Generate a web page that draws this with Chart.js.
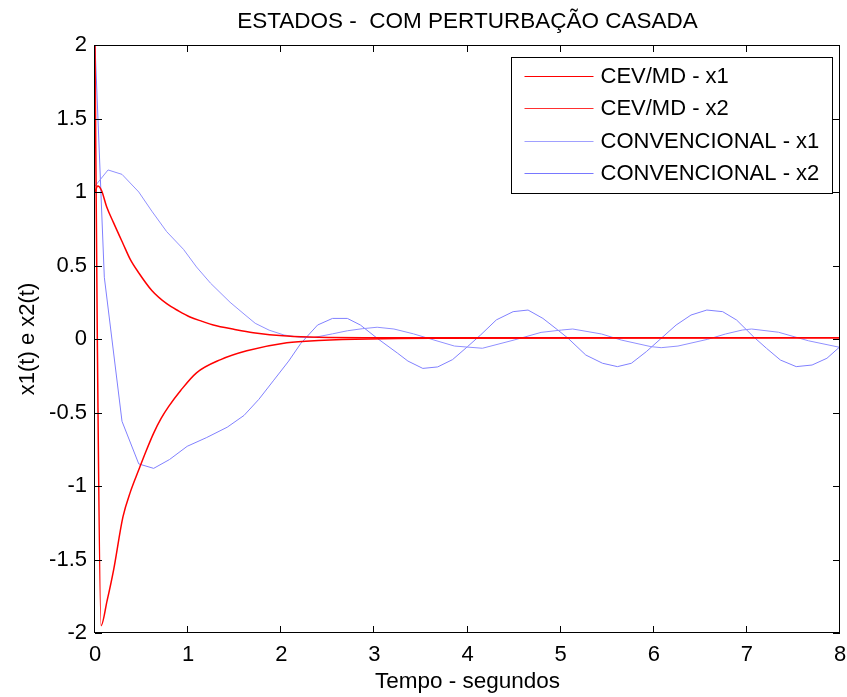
<!DOCTYPE html>
<html>
<head>
<meta charset="utf-8">
<script src="https://cdn.jsdelivr.net/npm/chart.js@4/dist/chart.umd.min.js"></script>
<style>
  body { margin: 0; background: #fff; }
  #wrap { width: 847px; height: 697px; }
</style>
</head>
<body>
<div id="wrap"><canvas id="chart" width="847" height="697"></canvas></div>
<script>
// dados (tempo em segundos)
const tCevX1 = [0, 0.03, 0.07, 0.125, 0.2, 0.3, 0.38, 0.47, 0.61, 0.77, 0.9, 1.02, 1.15, 1.27, 1.5, 1.7, 2.06, 2.4, 3.6, 8];
const cevX1 = [1.0, 1.04, 1.01, 0.90, 0.79, 0.65, 0.54, 0.45, 0.33, 0.24, 0.19, 0.15, 0.12, 0.095, 0.065, 0.043, 0.02, 0.012, 0.008, 0.008];

const tCevX2 = [0, 0.025, 0.065, 0.13, 0.2, 0.3, 0.38, 0.47, 0.55, 0.63, 0.71, 0.79, 0.92, 1.09, 1.35, 1.63, 2.06, 2.4, 3.6, 8];
const cevX2 = [2, 0, -1.95, -1.78, -1.57, -1.21, -1.04, -0.89, -0.76, -0.64, -0.54, -0.46, -0.35, -0.23, -0.14, -0.08, -0.025, -0.01, 0.005, 0.008];

const tConvX1 = [0, 0.14, 0.29, 0.47, 0.61, 0.77, 0.95, 1.09, 1.24, 1.45, 1.6, 1.72, 1.87, 2.03, 2.2, 2.35, 2.55, 2.71, 2.87, 3.03, 3.21, 3.42, 3.64, 3.86, 4.16, 4.5, 4.79, 5.01, 5.13, 5.44, 5.65, 5.97, 6.08, 6.26, 6.58, 6.77, 6.95, 7.05, 7.34, 7.66, 8.0];
const convX1 = [1.04, 1.15, 1.12, 1.0, 0.87, 0.73, 0.61, 0.49, 0.38, 0.25, 0.17, 0.107, 0.06, 0.027, 0.012, 0.01, 0.035, 0.056, 0.07, 0.08, 0.068, 0.035, -0.007, -0.048, -0.063, -0.007, 0.045, 0.061, 0.068, 0.034, -0.007, -0.052, -0.059, -0.048, -0.002, 0.034, 0.061, 0.068, 0.046, -0.012, -0.057];

const tConvX2 = [0, 0.1, 0.29, 0.47, 0.63, 0.8, 0.99, 1.2, 1.42, 1.6, 1.76, 1.92, 2.08, 2.21, 2.39, 2.55, 2.71, 2.85, 3.03, 3.25, 3.36, 3.52, 3.68, 3.84, 4.0, 4.14, 4.31, 4.49, 4.65, 4.81, 4.97, 5.08, 5.27, 5.45, 5.61, 5.76, 5.92, 6.1, 6.24, 6.4, 6.57, 6.74, 6.89, 7.07, 7.21, 7.36, 7.53, 7.7, 7.86, 8.0];
const convX2 = [2, 0.42, -0.56, -0.85, -0.88, -0.82, -0.73, -0.67, -0.6, -0.52, -0.41, -0.28, -0.15, -0.03, 0.095, 0.14, 0.14, 0.095, 0.005, -0.097, -0.15, -0.2, -0.19, -0.14, -0.052, 0.027, 0.13, 0.186, 0.197, 0.14, 0.061, 0.005, -0.109, -0.165, -0.188, -0.165, -0.086, 0.016, 0.095, 0.163, 0.197, 0.186, 0.129, 0.016, -0.063, -0.143, -0.188, -0.177, -0.131, -0.052];

const labels = ["CEV/MD - x1", "CEV/MD - x2", "CONVENCIONAL - x1", "CONVENCIONAL - x2"];
const colors = ["#ff0000", "#ff3030", "#a0a0ff", "#7878ff"];
const xTicks = [0, 1, 2, 3, 4, 5, 6, 7, 8];
const yTicks = [-2, -1.5, -1, -0.5, 0, 0.5, 1, 1.5, 2];

const FONT = "'Liberation Sans', Arial, sans-serif";

function pts(t, y) {
    return t.map((v, i) => ({ x: v, y: y[i] }));
}

function serie(label, t, y, color, width, smooth) {
    return {
        label: label,
        data: pts(t, y),
        borderColor: color,
        backgroundColor: color,
        borderWidth: width,
        pointRadius: 0,
        cubicInterpolationMode: smooth ? "monotone" : "default",
        tension: 0,
        fill: false
    };
}

// moldura estilo matlab com ticks para dentro + legenda dentro do grafico
const frame = {
    id: "frame",
    afterDatasetsDraw(chart) {
        const c = chart.ctx;
        const a = chart.chartArea;
        const xs = chart.scales.x, ys = chart.scales.y;
        c.save();
        c.strokeStyle = "#000";
        c.lineWidth = 1;
        c.strokeRect(Math.round(a.left) - 0.5, Math.round(a.top) + 0.5, Math.round(a.right - a.left), Math.round(a.bottom - a.top) - 1);
        c.beginPath();
        xTicks.forEach(v => {
            const px = Math.round(xs.getPixelForValue(v)) - 0.5;
            c.moveTo(px, a.bottom); c.lineTo(px, a.bottom - 7);
            c.moveTo(px, a.top); c.lineTo(px, a.top + 7);
        });
        yTicks.forEach(v => {
            const py = Math.round(ys.getPixelForValue(v)) + 0.5;
            c.moveTo(a.left, py); c.lineTo(a.left + 7, py);
            c.moveTo(a.right, py); c.lineTo(a.right - 7, py);
        });
        c.stroke();

        // legenda
        const lx = Math.round(a.right) - 328.5, ly = Math.round(a.top) + 12.5, lw = 321, lh = 136;
        c.fillStyle = "#fff";
        c.fillRect(lx, ly, lw, lh);
        c.strokeStyle = "#000";
        c.strokeRect(lx, ly, lw, lh);
        c.font = "22px " + FONT;
        c.textBaseline = "middle";
        c.textAlign = "left";
        labels.forEach((lab, i) => {
            const yy = Math.round(ly + 18 + i * 32.5);
            c.fillStyle = colors[i];
            c.fillRect(lx + 13, yy, 69, 1);
            c.fillStyle = "#000";
            c.fillText(lab, lx + 89, yy + 1);
        });
        c.restore();
    }
};

new Chart(document.getElementById("chart"), {
    type: "line",
    data: {
        datasets: [
            serie(labels[0], tCevX1, cevX1, colors[0], 1.5, true),
            serie(labels[1], tCevX2, cevX2, colors[0], 1.5, true),
            serie(labels[2], tConvX1, convX1, "#9090ff", 1, false),
            serie(labels[3], tConvX2, convX2, "#8080ff", 1, false)
        ]
    },
    options: {
        responsive: false,
        animation: false,
        layout: { padding: { left: 0, right: 7, top: 0, bottom: 0 } },
        plugins: {
            legend: { display: false },
            tooltip: { enabled: false },
            title: {
                display: true,
                fullSize: false,
                text: "ESTADOS -  COM PERTURBAÇÃO CASADA",
                color: "#000",
                font: { family: FONT, size: 22.5, weight: "normal" },
                padding: { top: 8.5, bottom: 9.5 }
            }
        },
        scales: {
            x: {
                type: "linear",
                min: 0,
                max: 8,
                afterFit(scale) { scale.height = 64; scale.paddingLeft = 0; scale.paddingRight = 0; },
                afterBuildTicks(scale) { scale.ticks = xTicks.map(v => ({ value: v })); },
                grid: { display: false, drawTicks: false },
                border: { display: false },
                ticks: { color: "#000", padding: 9, maxRotation: 0, font: { family: FONT, size: 22 } },
                title: {
                    display: true,
                    text: "Tempo - segundos",
                    color: "#000",
                    font: { family: FONT, size: 22.5 },
                    padding: { top: 0, bottom: 2 }
                }
            },
            y: {
                min: -2,
                max: 2,
                afterFit(scale) { scale.width = 95; scale.paddingTop = 0; scale.paddingBottom = 0; },
                afterBuildTicks(scale) { scale.ticks = yTicks.map(v => ({ value: v })); },
                grid: { display: false, drawTicks: false },
                border: { display: false },
                ticks: {
                    color: "#000",
                    padding: 8,
                    font: { family: FONT, size: 22 },
                    callback: v => String(v)
                },
                title: {
                    display: true,
                    text: "x1(t) e x2(t)",
                    color: "#000",
                    font: { family: FONT, size: 22 },
                    padding: { top: 15, bottom: 0 }
                }
            }
        }
    },
    plugins: [frame]
});
</script>
</body>
</html>
